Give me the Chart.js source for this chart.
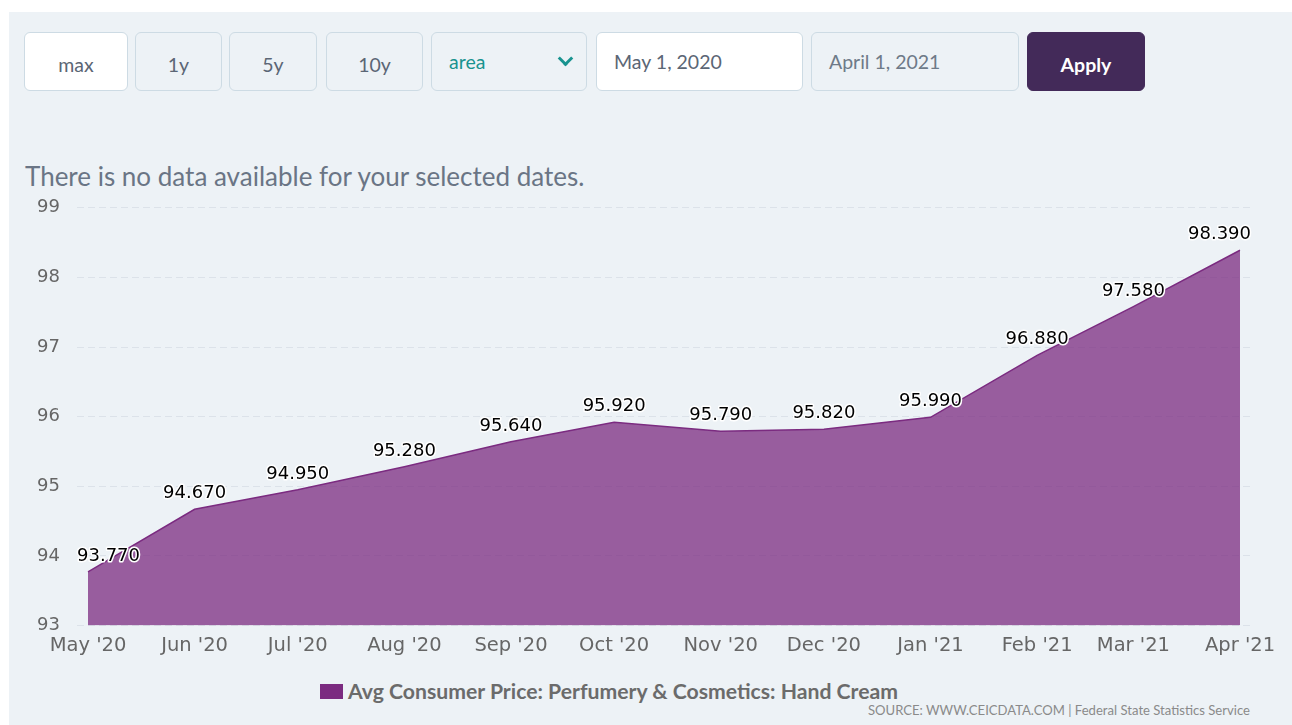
<!DOCTYPE html>
<html>
<head>
<meta charset="utf-8">
<title>Avg Consumer Price: Perfumery & Cosmetics: Hand Cream</title>
<script src="https://cdn.jsdelivr.net/npm/chart.js@4.4.1/dist/chart.umd.min.js"></script>
<style>
  html, body { margin: 0; padding: 0; background: #fff; }
  body { width: 1292px; height: 725px; position: relative; overflow: hidden; font-family: Lato, "Open Sans", sans-serif; }
  .panel { position: absolute; left: 9px; top: 12px; right: 0; bottom: 0; background: #edf2f6; }
  .ctl { position: absolute; top: 32px; height: 59px; box-sizing: border-box; border: 1px solid #cddbe4; border-radius: 6px;
         background: #edf2f6; color: #5b6675; font-size: 19.5px; display: flex; align-items: center; justify-content: center; padding-top: 5px; }
  .ctl.white { background: #fff; }
  .ctl.left { justify-content: flex-start; padding-left: 17px; padding-top: 0; }
  .ctl.apply { background: #432a59; border-color: #432a59; color: #fff; font-weight: bold; }
  .ctl .teal { color: #18938f; }
  .chev { position: absolute; right: 15px; top: 20px; width: 8px; height: 8px; border-right: 3px solid #18938f; border-bottom: 3px solid #18938f; transform: rotate(45deg); }
  .nodata { position: absolute; left: 25px; top: 160px; font-size: 26px; color: #6a7585; white-space: nowrap; }
  #wrap { position: absolute; left: 0; top: 180px; width: 1292px; height: 490px; }
  .legend { position: absolute; left: 320px; top: 678px; font-size: 21.2px; font-weight: bold; color: #6b6b6b; white-space: nowrap; display: flex; align-items: center; }
  .legend span.box { display: inline-block; width: 23px; height: 15px; background: #7b2b80; margin-right: 5px; }
  .source { position: absolute; right: 42px; top: 702px; font-size: 13.1px; color: #8a8a8a; white-space: nowrap; }
</style>
</head>
<body>
<div class="panel"></div>
<div class="ctl white" style="left:24px;width:104px;">max</div>
<div class="ctl" style="left:135px;width:87px;">1y</div>
<div class="ctl" style="left:229px;width:88px;">5y</div>
<div class="ctl" style="left:326px;width:97px;">10y</div>
<div class="ctl left" style="left:431px;width:156px;"><span class="teal">area</span><span class="chev"></span></div>
<div class="ctl white left" style="left:596px;width:207px;">May 1, 2020</div>
<div class="ctl left" style="left:811px;width:208px;color:#6e7a88;">April 1, 2021</div>
<div class="ctl apply" style="left:1027px;width:118px;">Apply</div>
<div class="nodata">There is no data available for your selected dates.</div>
<div id="wrap"><canvas id="chart"></canvas></div>
<div class="legend"><span class="box"></span>Avg Consumer Price: Perfumery &amp; Cosmetics: Hand Cream</div>
<div class="source">SOURCE: WWW.CEICDATA.COM | Federal State Statistics Service</div>
<script>
const dates = ['2020-05-01', '2020-06-01', '2020-07-01', '2020-08-01', '2020-09-01', '2020-10-01',
  '2020-11-01', '2020-12-01', '2021-01-01', '2021-02-01', '2021-03-01', '2021-04-01'];
const monthLabels = ["May '20", "Jun '20", "Jul '20", "Aug '20", "Sep '20", "Oct '20",
  "Nov '20", "Dec '20", "Jan '21", "Feb '21", "Mar '21", "Apr '21"];
const prices = [93.77, 94.67, 94.95, 95.28, 95.64, 95.92, 95.79, 95.82, 95.99, 96.88, 97.58, 98.39];
const yTicks = [93, 94, 95, 96, 97, 98, 99];

// days since first month, so the x axis keeps real month lengths
const dayMs = 24 * 3600 * 1000;
const t0 = Date.parse(dates[0]);
const days = dates.map(d => Math.round((Date.parse(d) - t0) / dayMs));
const span = days[days.length - 1];
const padDays = span * 11 / 1152; // small gap between plot edge and first/last point

const valueLabels = {
  id: 'valueLabels',
  afterDatasetsDraw(chart) {
    const ctx = chart.ctx;
    const area = chart.chartArea;
    const meta = chart.getDatasetMeta(0);
    ctx.save();
    ctx.font = '18px "DejaVu Sans"';
    ctx.textAlign = 'left';
    ctx.textBaseline = 'alphabetic';
    ctx.lineJoin = 'round';
    meta.data.forEach((pt, i) => {
      const txt = prices[i].toFixed(3);
      const w = ctx.measureText(txt).width;
      let x = pt.x - w / 2;
      x = Math.max(area.left, Math.min(area.right - w, x));
      const y = pt.y - 11;
      ctx.strokeStyle = '#ffffff';
      ctx.lineWidth = 3;
      ctx.strokeText(txt, x, y);
      ctx.fillStyle = '#000000';
      ctx.fillText(txt, x, y);
    });
    ctx.restore();
  }
};

new Chart(document.getElementById('chart').getContext('2d'), {
  type: 'line',
  data: {
    datasets: [{
      label: 'Avg Consumer Price: Perfumery & Cosmetics: Hand Cream',
      data: days.map((d, i) => ({ x: d, y: prices[i] })),
      fill: 'start',
      backgroundColor: 'rgba(123, 43, 128, 0.75)',
      borderColor: '#7b2b80',
      borderWidth: 1.5,
      pointRadius: 0,
      tension: 0
    }]
  },
  options: {
    responsive: true,
    maintainAspectRatio: false,
    animation: false,
    layout: { padding: { left: 0, right: 41, top: 25.5, bottom: 4.5 } },
    plugins: { legend: { display: false }, tooltip: { enabled: false } },
    scales: {
      x: {
        type: 'linear',
        min: -padDays,
        max: span + padDays,
        afterBuildTicks: scale => { scale.ticks = days.map(v => ({ value: v })); },
        afterFit: scale => { scale.height = 40; },
        grid: { display: false, drawTicks: false },
        border: { display: false },
        ticks: {
          autoSkip: false,
          maxRotation: 0,
          padding: 9,
          color: '#666666',
          font: { family: 'DejaVu Sans', size: 19.5 },
          callback: (v, i) => monthLabels[i]
        }
      },
      y: {
        min: yTicks[0],
        max: yTicks[yTicks.length - 1],
        afterBuildTicks: scale => { scale.ticks = yTicks.map(v => ({ value: v })); },
        afterFit: scale => { scale.width = 77; },
        grid: { color: '#dce2e9', lineWidth: 1, drawTicks: false },
        border: { display: false, dash: [7, 4] },
        ticks: {
          padding: 17,
          color: '#666666',
          font: { family: 'DejaVu Sans', size: 18 }
        }
      }
    }
  },
  plugins: [valueLabels]
});
</script>
</body>
</html>
